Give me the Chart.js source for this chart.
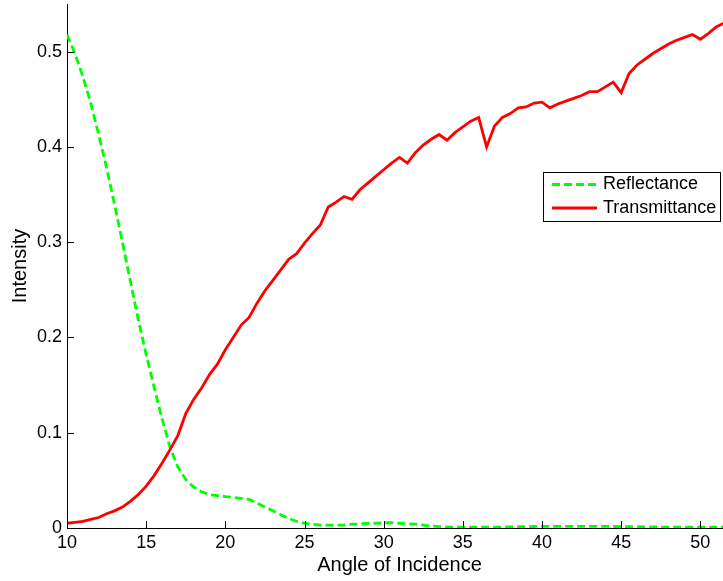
<!DOCTYPE html>
<html>
<head>
<meta charset="utf-8">
<script src="https://cdn.jsdelivr.net/npm/chart.js@4"></script>
<style>
  body { margin: 0; background: #fff; overflow: hidden; }
  #caja { width: 723px; height: 581px; overflow: hidden; }
</style>
</head>
<body>
<div id="caja"><canvas id="myChart" width="732" height="581"></canvas></div>
<script>
// datos: angulo de incidencia (grados) e intensidades
var angulos = [10,10.5,11,11.5,12,12.5,13,13.5,14,14.5,15,15.5,16,16.5,17,17.5,18,18.5,19,19.5,
  20,20.5,21,21.5,22,22.5,23,23.5,24,24.5,25,25.5,26,26.5,27,27.5,28,28.5,29,29.5,
  30,30.5,31,31.5,32,32.5,33,33.5,34,34.5,35,35.5,36,36.5,37,37.5,38,38.5,39,39.5,
  40,40.5,41,41.5,42,42.5,43,43.5,44,44.5,45,45.5,46,46.5,47,47.5,48,48.5,49,49.5,
  50,50.5,51,51.5,52];

var reflectancia = [0.518,0.498,0.474,0.446,0.413,0.378,0.340,0.300,0.259,0.219,
  0.182,0.148,0.115,0.085,0.064,0.051,0.043,0.038,0.035,0.034,
  0.033,0.032,0.031,0.030,0.026,0.022,0.018,0.014,0.010,0.007,
  0.005,0.004,0.003,0.003,0.003,0.003,0.004,0.004,0.005,0.005,
  0.0055,0.0055,0.005,0.0045,0.004,0.003,0.002,0.0015,0.001,0.001,
  0.001,0.0008,0.0008,0.0008,0.0009,0.001,0.0012,0.0013,0.0015,0.0016,
  0.0017,0.0018,0.0018,0.0018,0.0018,0.0018,0.0018,0.0017,0.0017,0.0016,
  0.0015,0.0014,0.0013,0.0012,0.0011,0.001,0.001,0.0009,0.0009,0.0009,
  0.0009,0.0009,0.0009,0.0009,0.0009];

var transmitancia = [0.005,0.006,0.007,0.009,0.011,0.015,0.018,0.022,0.028,0.035,
  0.044,0.055,0.068,0.082,0.097,0.120,0.135,0.147,0.161,0.172,
  0.187,0.200,0.213,0.221,0.236,0.249,0.260,0.271,0.282,0.288,
  0.299,0.309,0.318,0.337,0.342,0.348,0.345,0.355,0.362,0.369,
  0.376,0.383,0.389,0.383,0.394,0.402,0.408,0.413,0.407,0.415,
  0.421,0.427,0.431,0.400,0.422,0.431,0.435,0.441,0.442,0.446,
  0.447,0.441,0.445,0.448,0.451,0.454,0.458,0.458,0.463,0.468,
  0.457,0.477,0.486,0.492,0.498,0.503,0.508,0.512,0.515,0.518,
  0.513,0.519,0.526,0.530,0.533];

var ticksX = [10,15,20,25,30,35,40,45,50];
var ticksY = [0,0.1,0.2,0.3,0.4,0.5];
var nombres = ["Reflectance","Transmittance"];

var fuente = "'Liberation Sans', Arial, Helvetica, sans-serif";

function puntos(ys){
    return angulos.map(function(a, i){ return {x: a, y: ys[i]}; });
}

// marcas de los ejes hacia dentro (estilo matlab)
var marcasDentro = {
    id: 'marcasDentro',
    afterDatasetsDraw: function(chart){
        var ctx = chart.ctx, area = chart.chartArea;
        var sx = chart.scales.x, sy = chart.scales.y;
        ctx.save();
        ctx.strokeStyle = '#000';
        ctx.lineWidth = 1;
        ctx.beginPath();
        ticksX.forEach(function(t){
            var px = Math.round(sx.getPixelForValue(t)) + 0.5;
            ctx.moveTo(px, area.bottom);
            ctx.lineTo(px, area.bottom - 7);
        });
        ticksY.forEach(function(t){
            var py = Math.round(sy.getPixelForValue(t)) + 0.5;
            ctx.moveTo(area.left, py);
            ctx.lineTo(area.left + 7, py);
        });
        ctx.stroke();
        ctx.restore();
    }
};

// leyenda dentro del area del grafico
var leyenda = {
    id: 'leyenda',
    afterDraw: function(chart){
        var ctx = chart.ctx;
        var x0 = 543.5, y0 = 172.5, w = 177, h = 49;
        ctx.save();
        ctx.fillStyle = '#fff';
        ctx.fillRect(x0, y0, w, h);
        ctx.strokeStyle = '#000';
        ctx.lineWidth = 1;
        ctx.strokeRect(x0, y0, w, h);
        chart.data.datasets.slice().reverse().forEach(function(ds, i){
            var yy = y0 + 12 + i * 23.5;
            ctx.strokeStyle = ds.borderColor;
            ctx.lineWidth = ds.borderWidth;
            ctx.setLineDash(ds.borderDash || []);
            ctx.beginPath();
            ctx.moveTo(552, yy);
            ctx.lineTo(597, yy);
            ctx.stroke();
            ctx.setLineDash([]);
            ctx.fillStyle = '#000';
            ctx.font = '18px ' + fuente;
            ctx.textBaseline = 'middle';
            ctx.fillText(ds.label, 603, yy);
        });
        ctx.restore();
    }
};

var ctx = document.getElementById('myChart').getContext('2d');
var myChart = new Chart(ctx, {
    type: 'line',
    data: {
        datasets: [{
            label: nombres[1],
            data: puntos(transmitancia),
            borderColor: '#ff0000',
            borderWidth: 2.8,
            pointRadius: 0,
            tension: 0,
            fill: false
        },{
            label: nombres[0],
            data: puntos(reflectancia),
            borderColor: '#00ff00',
            borderWidth: 2.8,
            borderDash: [8,4],
            pointRadius: 0,
            tension: 0,
            fill: false
        }]
    },
    options: {
        responsive: false,
        animation: false,
        events: [],
        layout: { padding: { top: 4, right: 0, left: 0, bottom: 0 } },
        plugins: { legend: { display: false }, tooltip: { enabled: false } },
        scales: {
            x: {
                type: 'linear',
                min: 10,
                max: 52,
                afterFit: function(s){ s.height = 53; },
                afterBuildTicks: function(s){ s.ticks = ticksX.map(function(v){ return {value: v}; }); },
                grid: { drawOnChartArea: false, drawTicks: false },
                border: { display: true, color: '#000', width: 1 },
                ticks: { color: '#000', padding: 4, maxRotation: 0, autoSkip: false,
                         font: { family: fuente, size: 18 } },
                title: { display: true, text: 'Angle of Incidence', color: '#000',
                         padding: { top: 3 }, font: { family: fuente, size: 20 } }
            },
            y: {
                type: 'linear',
                min: 0,
                max: 0.55,
                // sin relleno extra arriba: el 0.5 no esta en el borde
                afterFit: function(s){ s.width = 67; s.paddingTop = 0; s.paddingBottom = 0; },
                afterBuildTicks: function(s){ s.ticks = ticksY.map(function(v){ return {value: v}; }); },
                grid: { drawOnChartArea: false, drawTicks: false },
                border: { display: true, color: '#000', width: 1 },
                ticks: { color: '#000', padding: 5, autoSkip: false,
                         font: { family: fuente, size: 18 },
                         callback: function(v){ return String(Math.round(v * 10) / 10); } },
                title: { display: true, text: 'Intensity', color: '#000',
                         padding: { top: 8 }, font: { family: fuente, size: 20 } }
            }
        }
    },
    plugins: [marcasDentro, leyenda]
});
</script>
</body>
</html>
